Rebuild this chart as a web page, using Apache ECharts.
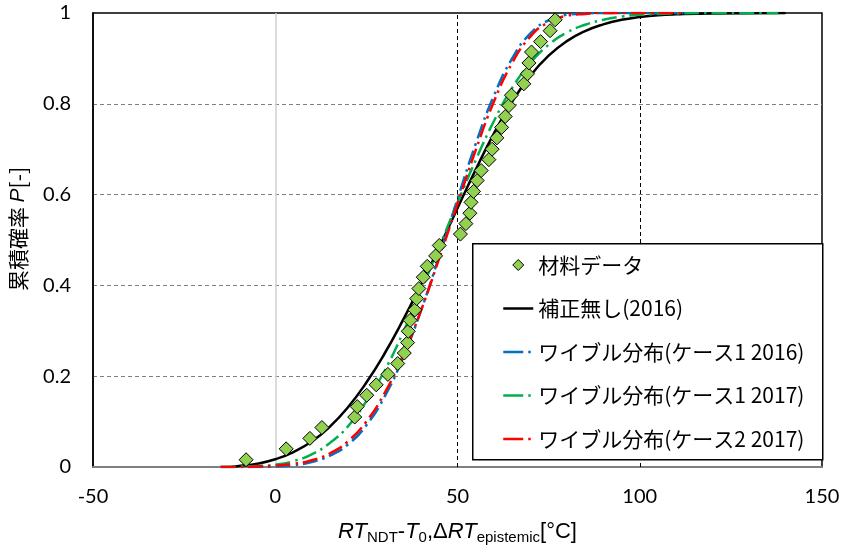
<!DOCTYPE html>
<html>
<head>
<meta charset="utf-8">
<script src="https://cdn.jsdelivr.net/npm/echarts@6/dist/echarts.min.js"></script>
<style>
  html, body { margin: 0; padding: 0; background: #fff; }
  #chart { width: 842px; height: 548px; }
</style>
</head>
<body>
<div id="chart"></div>
<script>
// Material data: RT_NDT - T0 [°C] and cumulative probability (median ranks)
const matX = [-8.0, 3.0, 9.5, 12.8, 21.8, 22.5, 25.1, 27.7, 30.9, 33.6,
              35.4, 36.3, 36.5, 37.0, 38.3, 38.8, 39.4, 40.6, 41.7, 44.0,
              45.0, 50.8, 52.3, 53.4, 53.7, 54.4, 55.4, 56.5, 58.6, 59.5,
              60.8, 62.1, 63.1, 64.1, 64.8, 68.2, 69.2, 69.6, 70.3, 72.8,
              75.4, 76.8];
const matP = [0.016, 0.040, 0.063, 0.087, 0.110, 0.133, 0.158, 0.181, 0.204, 0.228,
              0.251, 0.274, 0.299, 0.323, 0.346, 0.371, 0.393, 0.418, 0.442, 0.465,
              0.488, 0.513, 0.536, 0.559, 0.583, 0.607, 0.631, 0.653, 0.677, 0.700,
              0.725, 0.748, 0.772, 0.796, 0.819, 0.844, 0.866, 0.890, 0.914, 0.937,
              0.961, 0.985];

// Uncorrected distribution (2016)
const rawX = [-12, -10, -5, 0, 5, 10, 15, 20, 25, 30, 35, 40, 45, 50, 55, 60, 65, 70,
              75, 80, 85, 90, 95, 100, 105, 110, 120, 140];
const rawP = [0.000, 0.002, 0.007, 0.017, 0.033, 0.056, 0.089, 0.132, 0.186, 0.250,
              0.323, 0.402, 0.484, 0.570, 0.655, 0.735, 0.805, 0.862, 0.906, 0.938,
              0.960, 0.975, 0.985, 0.991, 0.995, 0.997, 0.999, 1.000];

// Weibull, case 1 (2016)
const wb1X = [-15, -10, -5, 0, 5, 10, 15, 20, 25, 30, 35, 40, 45, 50, 55, 60, 65, 70,
              75, 80, 85, 90, 100, 112];
const wb1P = [0.000, 0.000, 0.000, 0.001, 0.004, 0.011, 0.025, 0.050, 0.092, 0.155,
              0.240, 0.345, 0.465, 0.590, 0.712, 0.818, 0.900, 0.955, 0.984, 0.996,
              0.999, 1.000, 1.000, 1.000];

// Weibull, case 1 (2017)
const wb2X = [-15, -10, -5, 0, 5, 10, 15, 20, 25, 30, 35, 40, 45, 50, 55, 60, 65, 70,
              75, 80, 85, 90, 95, 100, 110, 120, 138];
const wb2P = [0.000, 0.001, 0.002, 0.005, 0.013, 0.028, 0.053, 0.090, 0.145, 0.212,
              0.295, 0.388, 0.485, 0.582, 0.676, 0.762, 0.835, 0.890, 0.930, 0.957,
              0.974, 0.985, 0.992, 0.996, 0.999, 1.000, 1.000];

// Weibull, case 2 (2017)
const wb3X = [-15, -10, -5, 0, 5, 10, 15, 20, 25, 30, 35, 40, 45, 50, 55, 60, 65, 70,
              75, 80, 85, 90, 100, 112];
const wb3P = [0.000, 0.000, 0.001, 0.003, 0.007, 0.015, 0.030, 0.057, 0.100, 0.163,
              0.245, 0.345, 0.460, 0.580, 0.698, 0.805, 0.890, 0.948, 0.980, 0.994,
              0.998, 1.000, 1.000, 1.000];

const names = ['材料データ', '補正無し(2016)', 'ワイブル分布(ケース1 2016)',
               'ワイブル分布(ケース1 2017)', 'ワイブル分布(ケース2 2017)'];

const pairs = (xs, ys) => xs.map((x, i) => [x, ys[i]]);

const numFont = 'Lato, "Liberation Sans", sans-serif';
const jpFont = '"Noto Sans CJK JP", sans-serif';
const titleFont = '"Liberation Sans", Arial, sans-serif';
const dashDot = [15, 5, 2.5, 5];
const legendDashDot = [20, 5, 2.5, 10];
// small diamond centred inside the 30x12 legend icon box
const legendDiamond = 'path://M0,0M30,12M15,0.5L20.5,6L15,11.5L9.5,6Z';

const chart = echarts.init(document.getElementById('chart'), null, { renderer: 'canvas' });

const curve = (name, data, color, dashed) => ({
  name, type: 'line', data, showSymbol: false, symbol: 'none',
  smooth: 0.5, z: 2,
  lineStyle: { color, width: 2.5, type: dashed ? dashDot : 'solid', cap: 'butt' },
  itemStyle: { color },
  emphasis: { disabled: true }
});

const lineLegend = (name, dashed) => ({
  name,
  itemStyle: { color: 'rgba(0,0,0,0)', borderWidth: 0 },
  lineStyle: { width: 2.5, type: dashed ? legendDashDot : 'solid' }
});

chart.setOption({
  animation: false,
  backgroundColor: '#fff',
  grid: {
    left: 93, right: 20, top: 13, bottom: 81,
    outerBoundsMode: 'none', containLabel: false,
    show: true, borderColor: '#000', borderWidth: 1.5, backgroundColor: 'transparent'
  },
  xAxis: {
    type: 'value', min: -50, max: 150, interval: 50,
    axisLine: { show: true, onZero: false, lineStyle: { color: '#7f7f7f', width: 2 } },
    axisTick: { show: false },
    splitLine: { show: false },
    axisLabel: { fontFamily: numFont, fontSize: 20, color: '#000', margin: 20 },
    name: '{i|RT}{s|NDT}{n|-}{i|T}{s|0}{n|,Δ}{i|RT}{s|epistemic}{n|[°C]}',
    nameLocation: 'middle', nameGap: 52,
    nameTextStyle: {
      rich: {
        i: { fontFamily: titleFont, fontStyle: 'italic', fontSize: 22, color: '#000', lineHeight: 26 },
        n: { fontFamily: titleFont, fontSize: 22, color: '#000', lineHeight: 26 },
        s: { fontFamily: titleFont, fontSize: 15, color: '#000', lineHeight: 15, verticalAlign: 'bottom' }
      }
    }
  },
  yAxis: {
    type: 'value', min: 0, max: 1, interval: 0.2,
    axisLine: { show: true, onZero: false, lineStyle: { color: '#000', width: 1.5 } },
    axisTick: { show: false },
    splitLine: {
      show: true, showMinLine: false, showMaxLine: false,
      lineStyle: { color: '#7f7f7f', width: 1, type: [4, 3] }
    },
    axisLabel: { fontFamily: numFont, fontSize: 20, color: '#000', margin: 22 },
    name: '累積確率 {i|P}[-]',
    nameLocation: 'middle', nameGap: 64, nameRotate: 90,
    nameTextStyle: {
      fontFamily: jpFont, fontSize: 21, color: '#000', padding: [0, 0, 0, 22],
      rich: { i: { fontFamily: titleFont, fontStyle: 'italic', fontSize: 21, color: '#000' } }
    }
  },
  legend: {
    orient: 'vertical', left: 497, top: 249,
    itemWidth: 30, itemHeight: 12, itemGap: 21.5,
    selectedMode: false,
    textStyle: { fontFamily: jpFont, fontSize: 21, color: '#000', lineHeight: 22 },
    data: [
      { name: names[0], icon: legendDiamond, itemStyle: { color: '#92D050', borderColor: '#000', borderWidth: 1 } },
      lineLegend(names[1], false),
      lineLegend(names[2], true),
      lineLegend(names[3], true),
      lineLegend(names[4], true)
    ]
  },
  graphic: [{
    type: 'rect', left: 472, top: 243, z: 3,
    shape: { width: 350, height: 216 },
    style: { fill: '#fff', stroke: '#000', lineWidth: 1.5 }
  }],
  series: [
    {
      // vertical reference lines
      type: 'line', data: [], z: 1, silent: true,
      markLine: {
        silent: true, symbol: 'none', z: 1, label: { show: false },
        data: [
          { xAxis: 0, lineStyle: { color: '#d0d0d0', width: 1.5, type: 'solid' } },
          { xAxis: 50, lineStyle: { color: '#000', width: 1, type: [4, 3] } },
          { xAxis: 100, lineStyle: { color: '#000', width: 1, type: [4, 3] } }
        ]
      }
    },
    curve(names[1], pairs(rawX, rawP), '#000000', false),
    curve(names[2], pairs(wb1X, wb1P), '#0070C0', true),
    curve(names[3], pairs(wb2X, wb2P), '#00B050', true),
    curve(names[4], pairs(wb3X, wb3P), '#FF0000', true),
    {
      name: names[0], type: 'scatter', z: 3,
      data: pairs(matX, matP),
      symbol: 'diamond', symbolSize: 14,
      itemStyle: { color: '#92D050', borderColor: '#000', borderWidth: 1, opacity: 1 },
      emphasis: { disabled: true }
    }
  ]
});
</script>
</body>
</html>
